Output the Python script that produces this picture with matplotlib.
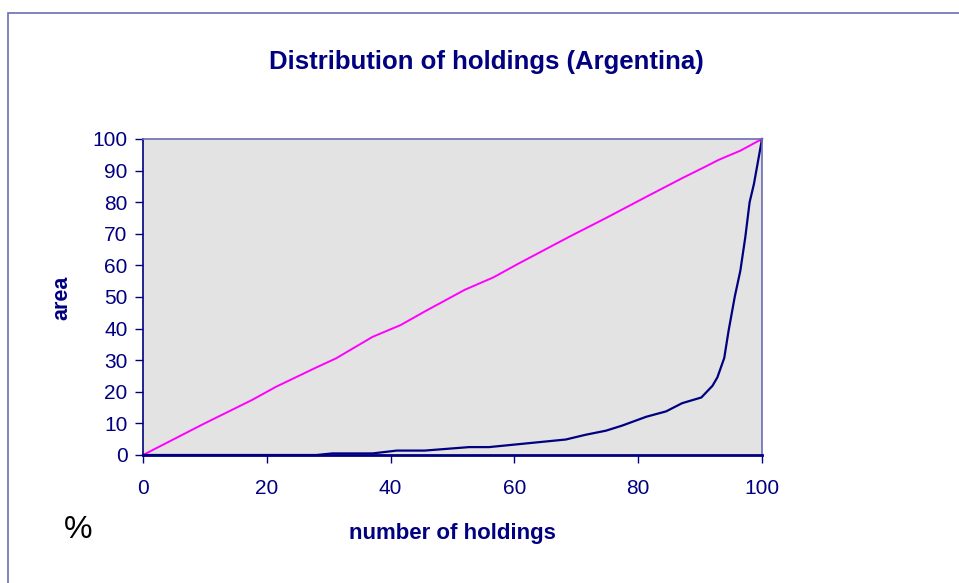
import matplotlib
matplotlib.use('Agg')
import matplotlib.pyplot as plt
from matplotlib.patches import Rectangle

plt.rcParams['font.family'] = ['Liberation Sans', 'DejaVu Sans']

navy = '#000080'

# Lorenz curve of holdings (cumulative % of holdings vs cumulative % of area)
holdings_pct = [0, 28.0, 30.6, 37.1, 41.0, 45.5, 52.7, 55.9, 68.3, 71.5, 74.8,
                77.4, 81.3, 84.5, 87.1, 90.2, 92.0, 92.8, 93.9, 94.6, 95.6,
                96.5, 97.3, 98.0, 98.7, 100]
area_pct = [0, 0, 0.5, 0.5, 1.4, 1.4, 2.5, 2.5, 4.9, 6.4, 7.7,
            9.3, 12.1, 13.8, 16.4, 18.2, 21.9, 24.6, 30.7, 39.3, 50.1,
            58.3, 68.9, 80.0, 85.8, 100]

# line of equality (as plotted, slightly wobbly)
equal_x = [0, 9.75, 17.6, 21.5, 28.0, 31.2, 37.1, 41.6, 45.5, 52.0, 56.6,
           60.5, 68.9, 74.8, 81.3, 87.1, 91.0, 93.0, 96.5, 100]
equal_y = [0, 9.8, 17.4, 21.6, 27.7, 30.6, 37.4, 41.1, 45.4, 52.3, 56.2,
           60.4, 69.1, 75.0, 81.7, 87.6, 91.4, 93.4, 96.3, 100]

x_ticks = [0, 20, 40, 60, 80, 100]
y_ticks = [0, 10, 20, 30, 40, 50, 60, 70, 80, 90, 100]

fig = plt.figure(figsize=(9.59, 5.83), dpi=100)

# outer chart border
fig.patches.append(Rectangle((8 / 959, -0.05), 1.0, 1 - 13 / 583 + 0.05,
                             transform=fig.transFigure, fill=False,
                             edgecolor='#6c6cb4', linewidth=1.2))

ax = fig.add_axes([143 / 959, 1 - 455 / 583, (762 - 143) / 959, (455 - 139) / 583])
ax.set_facecolor('#e3e3e3')

ax.plot(equal_x, equal_y, color='#ff00ff', linewidth=1.4, clip_on=False)
ax.plot(holdings_pct, area_pct, color=navy, linewidth=1.6, clip_on=False)

ax.set_xlim(0, 100)
ax.set_ylim(0, 100)
ax.set_xticks(x_ticks)
ax.set_yticks(y_ticks)
ax.tick_params(direction='out', length=6, width=1, color=navy, labelcolor=navy,
               labelsize=15, pad=5)
ax.tick_params(axis='x', pad=11)

for side in ['top', 'right']:
    ax.spines[side].set_color('#6c6cb4')
    ax.spines[side].set_linewidth(1.2)
ax.spines['left'].set_color(navy)
ax.spines['left'].set_linewidth(1.2)
ax.spines['bottom'].set_color(navy)
ax.spines['bottom'].set_linewidth(2)

fig.text(486 / 959, 1 - 62 / 583, 'Distribution of holdings (Argentina)',
         ha='center', va='center', fontsize=18.5, fontweight='bold', color=navy)
fig.text(452 / 959, 1 - 533 / 583, 'number of holdings', ha='center', va='center',
         fontsize=16, fontweight='bold', color=navy)
fig.text(62 / 959, 1 - 298 / 583, 'area', ha='center', va='center', rotation=90,
         fontsize=15.5, fontweight='bold', color=navy)
fig.text(78 / 959, 1 - 530 / 583, '%', ha='center', va='center',
         fontsize=23, color='black')

plt.savefig('out.png', dpi=100)
